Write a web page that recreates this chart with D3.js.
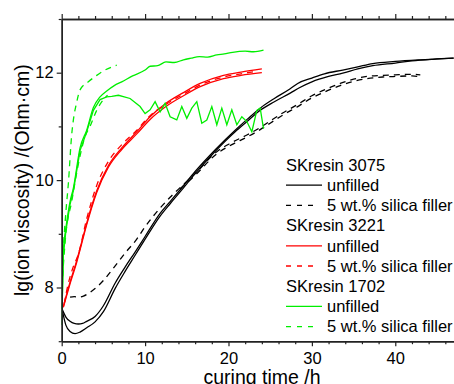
<!DOCTYPE html>
<html>
<head>
<meta charset="utf-8">
<script src="https://cdn.jsdelivr.net/npm/d3@7"></script>
<style>
  body { margin: 0; background: #fff; }
  text { font-family: "Liberation Sans", Arial, sans-serif; fill: #000; }
</style>
</head>
<body>
<svg></svg>
<script>
// curing curves: [time h, lg(ion viscosity)]
const sk3075Unfilled1 = [[0.1,7.58],[0.5,7.45],[1.0,7.37],[1.5,7.33],[2.0,7.32],[2.5,7.33],[3.0,7.37],[4.0,7.46],[5.0,7.66],[6.4,8.08],[7.6,8.38],[8.8,8.66],[10,8.95],[11.8,9.38],[13,9.6],[14.2,9.82],[16,10.16],[18.5,10.58],[20.8,10.93],[22.3,11.14],[23.8,11.34],[25.5,11.52],[27.4,11.70],[28.3,11.80],[30,11.90],[31.5,11.98],[33.7,12.05],[35.5,12.11],[37.3,12.17],[40,12.21],[43,12.24],[47,12.27]];
const sk3075Unfilled2 = [[0.1,7.55],[0.5,7.3],[1.0,7.18],[1.6,7.14],[2.2,7.17],[3.0,7.25],[4.0,7.36],[5.0,7.55],[6.4,7.98],[7.6,8.3],[8.8,8.6],[10,8.9],[11.8,9.33],[13,9.56],[14.2,9.78],[16,10.12],[18.5,10.55],[20.8,10.9],[22.3,11.1],[23.8,11.3],[25.5,11.46],[27.4,11.62],[28.5,11.72],[30,11.83],[32,11.93],[33.7,11.99],[35.5,12.07],[37.3,12.13],[40,12.18],[42,12.22],[44.5,12.25],[47,12.27]];
const sk3075Filled1 = [[1.0,7.82],[1.5,7.83],[2.0,7.82],[2.6,7.84],[3.2,7.89],[4.0,7.98],[5.0,8.13],[6.0,8.32],[7.0,8.52],[7.6,8.64],[9.0,8.9],[10,9.13],[11.8,9.48],[13,9.68],[14.2,9.86],[16,10.12],[18.6,10.53],[20.4,10.7],[22.2,10.84],[23.8,10.98],[25,11.1],[26.5,11.25],[28.2,11.4],[30,11.57],[31.8,11.7],[33.4,11.8],[35,11.88],[36.6,11.93],[38.5,11.95],[40,11.96],[42,11.97],[43,11.96]];
const sk3075Filled2 = [[14.2,9.84],[16,10.09],[18.6,10.49],[20.4,10.66],[22.2,10.8],[23.8,10.94],[25,11.06],[26.5,11.21],[28.2,11.36],[30,11.53],[31.8,11.66],[33.4,11.76],[35,11.84],[36.6,11.89],[38.5,11.92],[40,11.93],[42,11.94],[42.8,11.93]];

const sk3221Unfilled1 = [[0.2,7.65],[0.5,7.82],[1.0,8.1],[1.8,8.5],[2.4,8.85],[3.0,9.2],[4.2,9.8],[5.6,10.27],[7.2,10.6],[9.0,10.9],[10.6,11.18],[12.5,11.43],[14.6,11.63],[16.6,11.8],[19.4,11.95],[21.5,12.01],[24,12.07]];
const sk3221Unfilled2 = [[0.2,7.63],[0.5,7.8],[1.0,8.07],[1.8,8.47],[2.4,8.82],[3.0,9.17],[4.2,9.77],[5.6,10.24],[7.2,10.57],[9.0,10.86],[10.6,11.13],[12.5,11.37],[14.6,11.57],[16.6,11.74],[19.4,11.89],[21.5,11.95],[24,12.0]];
const sk3221Filled = [[0.3,7.7],[0.8,8.08],[1.4,8.39],[2.0,8.62],[3.0,9.28],[4.2,9.9],[5.6,10.35],[7.2,10.66],[9.0,10.93],[10.6,11.2],[12.5,11.41],[14.6,11.6],[16.6,11.77],[19.4,11.92],[21.5,11.98],[23.5,12.03]];

const sk1702Unfilled1 = [[0,7.3],[0.1,8.0],[0.2,8.7],[0.5,9.1],[1.0,9.6],[1.4,9.85],[2.2,10.6],[3.0,10.93],[3.8,11.35],[4.6,11.55],[5.4,11.66],[6.3,11.76],[7.2,11.83],[8.5,11.94],[10,12.05],[10.6,12.12],[11.5,12.13],[12.5,12.2],[13.5,12.19],[14.6,12.24],[15.5,12.27],[16.5,12.3],[17.5,12.29],[18.6,12.33],[19.5,12.35],[20.5,12.38],[22,12.4],[23,12.39],[24.2,12.42]];
const sk1702Unfilled2 = [[0,7.3],[0.2,8.6],[0.5,9.05],[1.0,9.55],[1.4,9.8],[2.2,10.55],[3.0,10.9],[3.8,11.3],[4.6,11.5],[5.4,11.55],[6.0,11.56],[6.8,11.58],[8.2,11.52],[9.4,11.37],[10.0,11.24],[10.6,11.31],[11.2,11.46],[11.8,11.27],[12.4,11.43],[13.0,11.18],[13.8,11.12],[14.4,11.37],[15.0,11.15],[15.6,11.34],[16.2,11.46],[16.8,11.06],[17.4,11.12],[18.0,11.37],[18.6,11.03],[19.2,11.34],[19.8,11.03],[20.4,11.31],[21.0,11.03],[21.6,11.18],[22.2,11.09],[22.8,10.9],[23.4,11.3],[23.8,11.34],[24.2,10.96]];
const sk1702Filled1 = [[0,7.6],[0.2,8.64],[0.5,9.4],[0.8,9.94],[1.2,10.85],[1.4,11.12],[1.8,11.45],[2.2,11.68],[3.2,11.83],[4.2,11.95],[5.2,12.05],[6.6,12.14]];
const sk1702Filled2 = [[0.1,8.2],[0.5,9.0],[1.2,9.6],[2.0,10.3],[2.8,10.81],[3.4,11.0],[4.2,11.3],[5.0,11.5],[5.5,11.58]];

const legendGroups = ['SKresin 3075', 'SKresin 3221', 'SKresin 1702'];
const legendItems = ['unfilled', '5 wt.% silica filler'];
const resinColors = ['#000000', '#ff0000', '#00ee00'];

const xTicks = [0, 10, 20, 30, 40];
const yTicks = [8, 10, 12];

const series = [
    {data: sk3075Unfilled1, c: 0, dash: false},
    {data: sk3075Unfilled2, c: 0, dash: false},
    {data: sk3075Filled1, c: 0, dash: true},
    {data: sk3075Filled2, c: 0, dash: true},
    {data: sk3221Unfilled1, c: 1, dash: false},
    {data: sk3221Unfilled2, c: 1, dash: false},
    {data: sk3221Filled, c: 1, dash: true},
    {data: sk1702Unfilled1, c: 2, dash: false},
    {data: sk1702Unfilled2, c: 2, dash: false, jagged: true},
    {data: sk1702Filled1, c: 2, dash: true},
    {data: sk1702Filled2, c: 2, dash: true}
];

const size = {w: 454, h: 384};
const plot = {l: 61.7, r: 462, t: 19, b: 341.2};
const svg = d3.select('svg').attr('width', size.w).attr('height', size.h);

const x = d3.scaleLinear().domain([0, 48]).range([plot.l, plot.r]);
const y = d3.scaleLinear().domain([7, 13]).range([plot.b, plot.t]);

svg.append('clipPath').attr('id', 'clip')
    .append('rect')
    .attr('x', plot.l).attr('y', plot.t)
    .attr('width', plot.r - plot.l).attr('height', plot.b - plot.t);

const smoothLine = d3.line().x(d => x(d[0])).y(d => y(d[1])).curve(d3.curveMonotoneX);
const rawLine = d3.line().x(d => x(d[0])).y(d => y(d[1]));

svg.append('g').attr('clip-path', 'url(#clip)')
    .selectAll('path')
    .data(series)
    .enter()
    .append('path')
    .attr('d', d => d.jagged ? rawLine(d.data) : smoothLine(d.data))
    .attr('fill', 'none')
    .attr('stroke', d => resinColors[d.c])
    .attr('stroke-width', 1.3)
    .attr('stroke-dasharray', d => d.dash ? '6,5' : null);

// axes
function styleAxis(g) {
    g.select('.domain').attr('stroke', '#222').attr('stroke-width', 1.4);
    g.selectAll('line').attr('stroke', '#222').attr('stroke-width', 1.2);
    g.selectAll('text').style('font-family', '"Liberation Sans", Arial, sans-serif')
        .style('font-size', '16.5px').attr('fill', '#000');
}

const xMinor = d3.range(0, 49, 2).filter(v => v % 10 !== 0);
const yMinor = [7, 9, 11, 13];

svg.append('g').attr('transform', 'translate(0,' + plot.b + ')')
    .call(d3.axisBottom(x).tickValues(xTicks).tickFormat(d3.format('d')).tickSize(5).tickSizeOuter(0).tickPadding(6))
    .call(styleAxis);
svg.append('g').attr('transform', 'translate(0,' + plot.b + ')')
    .call(d3.axisBottom(x).tickValues(xMinor).tickFormat('').tickSize(3).tickSizeOuter(0))
    .call(styleAxis);

svg.append('g').attr('transform', 'translate(0,' + plot.t + ')')
    .call(d3.axisTop(x).tickValues(xTicks).tickFormat('').tickSize(5).tickSizeOuter(0))
    .call(styleAxis);
svg.append('g').attr('transform', 'translate(0,' + plot.t + ')')
    .call(d3.axisTop(x).tickValues(xMinor).tickFormat('').tickSize(3).tickSizeOuter(0))
    .call(styleAxis);

svg.append('g').attr('transform', 'translate(' + plot.l + ',0)')
    .call(d3.axisLeft(y).tickValues(yTicks).tickFormat(d3.format('d')).tickSize(5).tickSizeOuter(0).tickPadding(3))
    .call(styleAxis);
svg.append('g').attr('transform', 'translate(' + plot.l + ',0)')
    .call(d3.axisLeft(y).tickValues(yMinor).tickFormat('').tickSize(3).tickSizeOuter(0))
    .call(styleAxis);

// axis titles
svg.append('text')
    .attr('transform', 'translate(29,' + ((plot.t + plot.b) / 2) + ') rotate(-90)')
    .attr('text-anchor', 'middle')
    .style('font-size', '19.5px')
    .text('lg(ion viscosity) /(Ohm\u00b7cm)');

svg.append('text')
    .attr('x', 262).attr('y', 384)
    .attr('text-anchor', 'middle')
    .style('font-size', '19.5px')
    .text('curing time /h');

// legend
const legend = svg.append('g').attr('transform', 'translate(286,0)');
const rowH = 20.2;
legendGroups.forEach(function (name, i) {
    let y0 = 165 + i * 3 * rowH;
    legend.append('text').attr('x', 0).attr('y', y0).attr('dy', '0.35em')
        .style('font-size', '16.5px').text(name);
    legendItems.forEach(function (item, j) {
        let yy = y0 + (j + 1) * rowH;
        legend.append('line')
            .attr('x1', 0).attr('x2', j === 0 ? 36 : 29)
            .attr('y1', yy).attr('y2', yy)
            .attr('stroke', resinColors[i]).attr('stroke-width', 1.3)
            .attr('stroke-dasharray', j === 0 ? null : '5,6');
        legend.append('text').attr('x', 41).attr('y', yy).attr('dy', '0.35em')
            .style('font-size', '16.5px').text(item);
    });
});
</script>
</body>
</html>
